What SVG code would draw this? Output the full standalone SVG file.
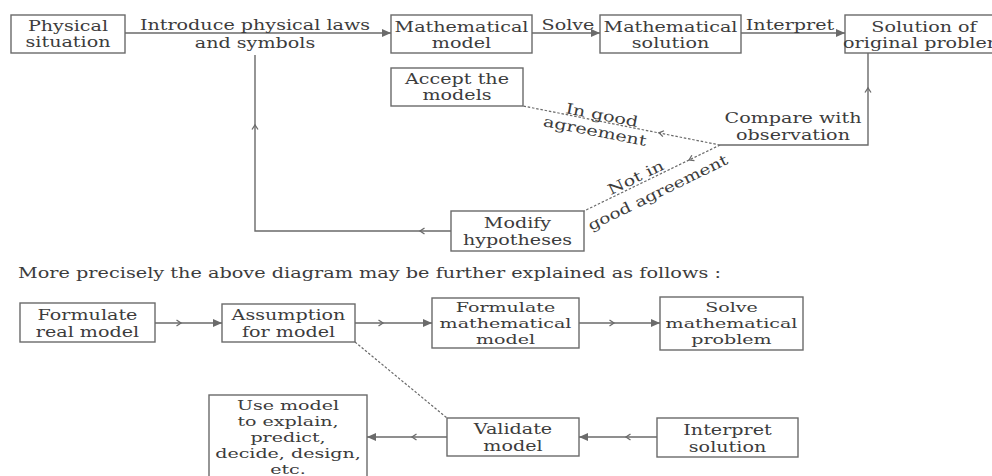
<svg xmlns="http://www.w3.org/2000/svg" xmlns:xlink="http://www.w3.org/1999/xlink" width="992" height="476" viewBox="0 0 992 476">
<style>
.bg{fill:#ffffff}
.box{fill:none;stroke:#6a6a6a;stroke-width:1.4}
.ln{fill:none;stroke:#6a6a6a;stroke-width:1.4}
.dash{fill:none;stroke:#6a6a6a;stroke-width:1.2;stroke-dasharray:2.5 1.8}
.t{font-family:"DejaVu Serif","Liberation Serif",serif;font-size:14.5px;fill:#3c3c3c;text-anchor:middle}
.tb{font-family:"DejaVu Serif","Liberation Serif",serif;font-size:13.8px;fill:#3c3c3c;text-anchor:middle}
.ts{font-family:"DejaVu Serif","Liberation Serif",serif;font-size:14.6px;fill:#3c3c3c;text-anchor:start}
.chev{fill:none;stroke:#6a6a6a;stroke-width:1.3}
</style>
<defs>
<marker id="ah" markerUnits="userSpaceOnUse" markerWidth="10" markerHeight="8" refX="9" refY="4" orient="auto">
<path d="M0,0 L9,4 L0,8 z" fill="#6a6a6a"/>
</marker>
<path id="chev" class="chev" d="M-3.5,-3 L1,0 L-3.5,3"/>
</defs>
<rect class="bg" x="0" y="0" width="992" height="476"/>

<g id="connectors">
<path class="ln" d="M125,33 H391" marker-end="url(#ah)"/>
<path class="ln" d="M532,33 H600" marker-end="url(#ah)"/>
<path class="ln" d="M741,33 H845" marker-end="url(#ah)"/>
<path class="ln" d="M720,145 H868 V53"/>
<use xlink:href="#chev" transform="translate(868,89) rotate(-90)"/>
<path class="dash" d="M720,145 L523,106"/>
<use xlink:href="#chev" transform="translate(660,133) rotate(191.2)"/>
<path class="dash" d="M720,145 L584,211"/>
<use xlink:href="#chev" transform="translate(690,159.5) rotate(154.1)"/>
<path class="ln" d="M451,231 H255 V55"/>
<use xlink:href="#chev" transform="translate(421,231) rotate(180)"/>
<use xlink:href="#chev" transform="translate(255,126) rotate(-90)"/>

<path class="ln" d="M155,323 H222" marker-end="url(#ah)"/>
<use xlink:href="#chev" transform="translate(180,323)"/>
<path class="ln" d="M355,323 H432" marker-end="url(#ah)"/>
<use xlink:href="#chev" transform="translate(382,323)"/>
<path class="ln" d="M579,323 H660" marker-end="url(#ah)"/>
<use xlink:href="#chev" transform="translate(613,323)"/>
<path class="dash" d="M355,342 L447,418"/>
<path class="ln" d="M657,437 H579" marker-end="url(#ah)"/>
<use xlink:href="#chev" transform="translate(627,437) rotate(180)"/>
<path class="ln" d="M447,437 H367" marker-end="url(#ah)"/>
<use xlink:href="#chev" transform="translate(413,437) rotate(180)"/>
</g>

<g id="label-introduce">
<text class="t" transform="translate(255,0) scale(1.32,1)"><tspan x="0" y="30">Introduce physical laws</tspan><tspan x="0" y="48">and symbols</tspan></text>
</g>
<g id="label-solve">
<text class="t" transform="translate(568,0) scale(1.32,1)"><tspan x="0" y="30">Solve</tspan></text>
</g>
<g id="label-interpret">
<text class="t" transform="translate(790,0) scale(1.32,1)"><tspan x="0" y="30">Interpret</tspan></text>
</g>
<g id="label-ingood">
<text class="t" transform="translate(601,120) rotate(11) scale(1.32,1)">In good</text>
<text class="t" transform="translate(594,136) rotate(11) scale(1.32,1)">agreement</text>
</g>
<g id="label-notin">
<text class="t" transform="translate(638,182) rotate(-26) scale(1.32,1)">Not in</text>
<text class="t" transform="translate(660,197) rotate(-26) scale(1.28,1)">good agreement</text>
</g>

<g id="physical">
<rect class="box" x="11" y="15" width="114" height="38"/>
<text class="t" transform="translate(68,0) scale(1.32,1)"><tspan x="0" y="31">Physical</tspan><tspan x="0" y="47">situation</tspan></text>
</g>
<g id="math-model">
<rect class="box" x="391" y="15" width="141" height="38"/>
<text class="t" transform="translate(461.5,0) scale(1.32,1)"><tspan x="0" y="32">Mathematical</tspan><tspan x="0" y="48">model</tspan></text>
</g>
<g id="math-solution">
<rect class="box" x="600" y="15" width="141" height="38"/>
<text class="t" transform="translate(670.5,0) scale(1.32,1)"><tspan x="0" y="32">Mathematical</tspan><tspan x="0" y="48">solution</tspan></text>
</g>
<g id="solution-original">
<rect class="box" x="845" y="15" width="160" height="38"/>
<text class="t" transform="translate(924,0) scale(1.32,1)"><tspan x="0" y="32">Solution of</tspan><tspan x="0" y="48">original problem</tspan></text>
</g>
<g id="accept">
<rect class="box" x="391" y="68" width="132" height="38"/>
<text class="t" transform="translate(457,0) scale(1.32,1)"><tspan x="0" y="84">Accept the</tspan><tspan x="0" y="100">models</tspan></text>
</g>
<g id="compare">
<text class="t" transform="translate(793,0) scale(1.32,1)"><tspan x="0" y="123">Compare with</tspan><tspan x="0" y="140">observation</tspan></text>
</g>
<g id="modify">
<rect class="box" x="451" y="211" width="133" height="40"/>
<text class="t" transform="translate(517.5,0) scale(1.32,1)"><tspan x="0" y="228">Modify</tspan><tspan x="0" y="245">hypotheses</tspan></text>
</g>

<g id="caption">
<text class="ts" transform="translate(18,278) scale(1.32,1)">More precisely the above diagram may be further explained as follows :</text>
</g>

<g id="formulate-real">
<rect class="box" x="20" y="303" width="135" height="39"/>
<text class="t" transform="translate(87.5,0) scale(1.32,1)"><tspan x="0" y="320">Formulate</tspan><tspan x="0" y="337">real model</tspan></text>
</g>
<g id="assumption">
<rect class="box" x="222" y="304" width="133" height="38"/>
<text class="t" transform="translate(288.5,0) scale(1.32,1)"><tspan x="0" y="320">Assumption</tspan><tspan x="0" y="337">for model</tspan></text>
</g>
<g id="formulate-math">
<rect class="box" x="432" y="298" width="147" height="50"/>
<text class="tb" transform="translate(505.5,0) scale(1.38,1)"><tspan x="0" y="312">Formulate</tspan><tspan x="0" y="328">mathematical</tspan><tspan x="0" y="344">model</tspan></text>
</g>
<g id="solve-math">
<rect class="box" x="660" y="297" width="143" height="53"/>
<text class="tb" transform="translate(731.5,0) scale(1.38,1)"><tspan x="0" y="312">Solve</tspan><tspan x="0" y="328">mathematical</tspan><tspan x="0" y="344">problem</tspan></text>
</g>
<g id="interpret-solution">
<rect class="box" x="657" y="418" width="141" height="39"/>
<text class="t" transform="translate(727.5,0) scale(1.32,1)"><tspan x="0" y="435">Interpret</tspan><tspan x="0" y="452">solution</tspan></text>
</g>
<g id="validate">
<rect class="box" x="447" y="418" width="132" height="38"/>
<text class="t" transform="translate(513,0) scale(1.32,1)"><tspan x="0" y="434">Validate</tspan><tspan x="0" y="451">model</tspan></text>
</g>
<g id="use-model">
<rect class="box" x="209" y="395" width="158" height="90"/>
<text class="tb" transform="translate(288,0) scale(1.38,1)"><tspan x="0" y="410">Use model</tspan><tspan x="0" y="426">to explain,</tspan><tspan x="0" y="442">predict,</tspan><tspan x="0" y="458">decide, design,</tspan><tspan x="0" y="474">etc.</tspan></text>
</g>
</svg>
